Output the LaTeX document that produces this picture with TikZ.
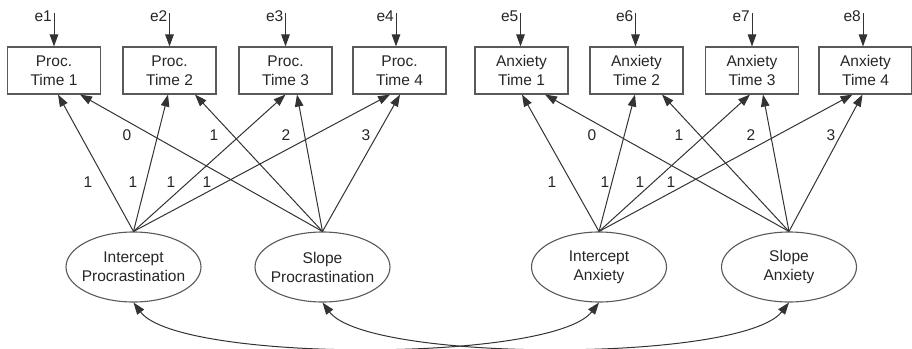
\documentclass[tikz,border=0pt]{standalone}
\usepackage{fontspec}
\setmainfont{Liberation Sans}
\usetikzlibrary{arrows.meta,calc,shapes.geometric}
\begin{document}
\begin{tikzpicture}[x=1pt,y=-1pt]
\tikzset{
  txt/.style={font=\fontsize{15.5}{19}\selectfont, text=black!85},
  obs/.style={txt, draw=black!65, line width=1.1pt, rectangle, minimum width=93pt, minimum height=47pt, align=center, inner sep=0pt},
  lat/.style={txt, draw=black!65, line width=1.1pt, ellipse, minimum width=135pt, minimum height=70pt, align=center, inner xsep=-6pt, inner ysep=0pt},
  conn/.style={draw=black!80, line width=1pt, -{Triangle[length=12pt,width=8.5pt]}},
  cov/.style={draw=black!80, line width=1pt, {Triangle[length=12pt,width=8.5pt]}-{Triangle[length=12pt,width=8.5pt]}},
  lbl/.style={txt, inner sep=0pt}
}
\useasboundingbox (0,0) rectangle (912,348);

% observed
\node[obs] (b1) at (54,70.5) {Proc.\\Time 1};
\node[obs] (b2) at (169.5,70.5) {Proc.\\Time 2};
\node[obs] (b3) at (285.5,70.5) {Proc.\\Time 3};
\node[obs] (b4) at (399.5,70.5) {Proc.\\Time 4};
\node[obs] (b5) at (521.5,70.5) {Anxiety\\Time 1};
\node[obs] (b6) at (636.5,70.5) {Anxiety\\Time 2};
\node[obs] (b7) at (752,70.5) {Anxiety\\Time 3};
\node[obs] (b8) at (865.5,70.5) {Anxiety\\Time 4};

% latent
\node[lat] (ip) at (133.5,267) {Intercept\\Procrastination};
\node[lat] (sp) at (322.5,267) {Slope\\Procrastination};
\node[lat] (ia) at (599,267) {Intercept\\Anxiety};
\node[lat] (sa) at (789,267) {Slope\\Anxiety};

% errors
\foreach \i/\x in {1/54,2/169.5,3/285.5,4/396,5/520.5,6/635.5,7/752,8/863}{
  \coordinate (t\i) at (\x,13);
  \node[lbl, anchor=east] (le\i) at ($(t\i)+(-2,3)$) {e\i};
  \draw[conn] (t\i) -- (t\i |- b\i.north);
}

% loadings
\foreach \s/\b/\dx in {ip/b1/4, sp/b1/26, ip/b2/-1.5, sp/b2/25.5, ip/b3/0, sp/b3/11.5, ip/b4/-9.5, sp/b4/0.5,
                       ia/b5/0.5, sa/b5/23.5, ia/b6/-1.5, sa/b6/25.5, ia/b7/-2, sa/b7/11, ia/b8/-13, sa/b8/-3}{
  \draw[conn] (\s.north) -- ($(\b.south)+(\dx,0)$);
}

% loading labels
\node[lbl] (l1) at (88,182) {1};
\node[lbl] (l2) at (133,182) {1};
\node[lbl] (l3) at (171,182) {1};
\node[lbl] (l4) at (207,182) {1};
\node[lbl] (m1) at (127,135) {0};
\node[lbl] (m2) at (214,135) {1};
\node[lbl] (m3) at (286,135) {2};
\node[lbl] (m4) at (366,135) {3};
\node[lbl] (l5) at (552,182) {1};
\node[lbl] (l6) at (605,182) {1};
\node[lbl] (l7) at (640,182) {1};
\node[lbl] (l8) at (671,182) {1};
\node[lbl] (m5) at (592,135) {0};
\node[lbl] (m6) at (679,135) {1};
\node[lbl] (m7) at (751,135) {2};
\node[lbl] (m8) at (831,135) {3};

% covariances
\draw[cov] (ip.south) .. controls +(45,60) and +(-47,60) .. (ia.south);
\draw[cov] (sp.south) .. controls +(45,60) and +(-47,60) .. (sa.south);
\end{tikzpicture}
\end{document}
